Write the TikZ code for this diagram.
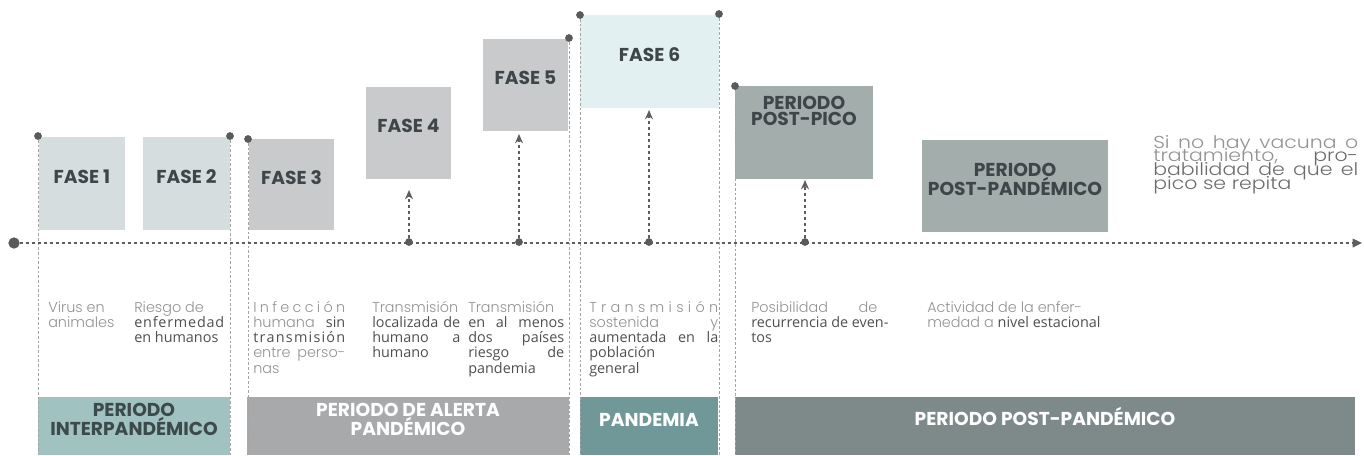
\documentclass[tikz,border=0pt]{standalone}
\usepackage{fontspec}
\setmainfont{Open Sans}
\newfontfamily\lt{Poppins Light}
\newfontfamily\ltw{Poppins Light}[FakeStretch=1.18]
\newfontfamily\hf{Poppins Bold}
\usetikzlibrary{arrows.meta,fit}
\definecolor{c12}{HTML}{D5DDDE}
\definecolor{c345}{HTML}{C9CACC}
\definecolor{c6}{HTML}{E3F0F1}
\definecolor{cpp}{HTML}{A2ADAC}
\definecolor{boxtx}{HTML}{3E4649}
\definecolor{b1}{HTML}{A0C2C0}
\definecolor{b1tx}{HTML}{3C4A4C}
\definecolor{b2}{HTML}{A8A9AB}
\definecolor{b3}{HTML}{719898}
\definecolor{b4}{HTML}{7D8A89}
\definecolor{ltx}{HTML}{929292}
\definecolor{dtx}{HTML}{4F4F4F}
\definecolor{mtx}{HTML}{6C6C6C}
\definecolor{dotc}{HTML}{5A5A5A}
\definecolor{vdc}{HTML}{A4A4A4}
\definecolor{axc}{HTML}{5E5E5E}
\newcommand\LT{\lt\color{ltx}}
\newcommand\DK{\rmfamily\color{dtx}}
\newcommand\LW{\ltw\color{ltx}}
\newcommand\MD{\ltw\color{mtx}}
\newcommand\jl[2]{\hbox to #1{#2}}
\newcommand\vt[1]{\vtop{\lineskiplimit=-50pt\relax #1}}
\begin{document}
\begin{tikzpicture}[x=0.75pt,y=-0.75pt,
  hdr/.style={font=\hf\fontsize{14}{11.6}\selectfont, align=center},
  fbox/.style={hdr, inner sep=0pt, text=boxtx},
  band/.style={hdr, inner sep=0pt},
  dot/.style={circle, fill=dotc, inner sep=0pt, minimum size=5.8pt},
  bigdot/.style={circle, fill=dotc, inner sep=0pt, minimum size=8.5pt},
  vdash/.style={draw=vdc, line width=0.6pt, dash pattern=on 2pt off 1.5pt},
  axisline/.style={draw=axc, line width=1pt, dash pattern=on 2.5pt off 2pt, -{Triangle[length=7pt,width=6.5pt]}},
  uparr/.style={draw=axc, line width=1pt, dash pattern=on 2.5pt off 2pt, -{Stealth[length=7pt,width=6pt]}},
  txt/.style={inner sep=0pt, anchor=base west, font=\fontsize{10.8}{11.44}\selectfont},
  bigtxt/.style={inner sep=0pt, anchor=base west, font=\fontsize{13}{10.3}\selectfont}]
\useasboundingbox (0,0) rectangle (1364,455);
% phase boxes
\node[fbox, fill=c12, fit={(39,137) (125,230)}] (f1) {FASE 1};
\node[fbox, fill=c12, fit={(143,137) (230,230)}] (f2) {FASE 2};
\node[fbox, fill=c345, fit={(249,139) (334,230)}] (f3) {FASE 3};
\node[fbox, fill=c345, fit={(366,87) (451,179)}] (f4) {FASE 4};
\node[fbox, fill=c345, fit={(483,39) (568,131)}] (f5) {FASE 5};
\node[fbox, fill=c6, fit={(580,15) (719,108)}] (f6) {FASE 6};
\node[fbox, fill=cpp, fit={(735,86) (873,179)}] (pp) {};
\node[hdr, text=boxtx, inner sep=0pt] (ppt) at (804,111) {PERIODO\\POST-PICO};
\node[fbox, fill=cpp, fit={(922,140) (1108,232)}] (pd) {PERIODO\\POST-PANDÉMICO};
% period bands
\node[band, fill=b1, text=b1tx, fit={(38,397) (230,455)}] (p1) {PERIODO\\INTERPANDÉMICO};
\node[band, fill=b2, text=white, fit={(247,397) (569,455)}] (p2) {PERIODO DE ALERTA\\PANDÉMICO};
\node[band, fill=b3, text=white, fit={(580,397) (718,455)}] (p3) {PANDEMIA};
\node[band, fill=b4, text=white, fit={(735,397) (1355,455)}] (p4) {PERIODO POST-PANDÉMICO};
% descriptions
\node[txt] (c1) at (48,312) {\vt{\hbox{\LT Virus en}\hbox{\LT animales}}};
\node[txt] (c2) at (134,312) {\vt{\hbox{\LT Riesgo de}
  \jl{67.5pt}{\DK e\hfil n\hfil f\hfil e\hfil r\hfil m\hfil e\hfil d\hfil a\hfil d}
  \hbox{\DK en humanos}}};
\node[txt] (c3) at (253,312) {\vt{\jl{69pt}{\LT I\hfil n\hfil f\hfil e\hfil c\hfil c\hfil i\hfil ó\hfil n}
  \jl{69pt}{\LT humana\hfil\DK sin}
  \jl{69pt}{\DK t\hfil r\hfil a\hfil n\hfil s\hfil m\hfil i\hfil s\hfil i\hfil ó\hfil n}
  \jl{69pt}{\LT entre\hfil perso-}
  \hbox{\LT nas}}};
\node[txt] (c4) at (372,312) {\vt{\hbox{\LT Transmisión}
  \jl{66pt}{\DK localizada\hfil de}
  \jl{66pt}{\DK humano\hfil a}
  \hbox{\DK humano}}};
\node[txt] (c5) at (468,312) {\vt{\hbox{\LT Transmisión}
  \jl{72pt}{\DK en\hfil al\hfil menos}
  \jl{72pt}{\DK dos\hfil países}
  \jl{72pt}{\DK riesgo\hfil de}
  \hbox{\DK pandemia}}};
\node[txt] (c6) at (589,312) {\vt{\jl{96.75pt}{\LT T\hfil r\hfil a\hfil n\hfil s\hfil m\hfil i\hfil s\hfil i\hfil ó\hfil n}
  \jl{96.75pt}{\LT sostenida\hfil y}
  \jl{96.75pt}{\DK aumentada\hfil en\hfil la}
  \hbox{\DK población}
  \hbox{\DK general}}};
\node[txt] (c7) at (751,312) {\vt{\jl{94.5pt}{\LT Posibilidad\hfil de}
  \hbox{\DK recurrencia de even-}
  \hbox{\DK tos}}};
\node[txt] (c8) at (927,312) {\vt{\hbox{\LT Actividad de la enfer-}
  \hbox{\LT medad a \DK nivel estacional}}};
\node[bigtxt] (c9) at (1153,148) {\vt{\jl{153.75pt}{\LW Si no hay vacuna o}
  \jl{153.75pt}{\LW tratamiento,\hfil\MD pro-}
  \jl{153.75pt}{\MD babilidad de que el}
  \hbox{\MD pico se repita}}};
% corner dots and dashed verticals
\coordinate (bot) at (0,455);
\node[dot] (d1) at (38,136) {};
\node[dot] (d2) at (230,136) {};
\node[dot] (d3) at (248,139) {};
\node[dot] (d5) at (569,38) {};
\node[dot] (d6a) at (580,15) {};
\node[dot] (d6b) at (719,14) {};
\node[dot] (d7) at (735,86) {};
\foreach \d in {d1,d2,d3,d5,d6a,d6b,d7} \draw[vdash] (\d.south) -- (\d |- bot);
% time axis
\node[bigdot] (a0) at (14,243) {};
\coordinate (aend) at (1362,243);
\draw[axisline] (a0.east) -- (aend);
% upward arrows
\node[dot] (u4) at (409,242) {};
\node[dot] (u5) at (519,242) {};
\node[dot] (u6) at (649,242) {};
\node[dot] (u7) at (805,242) {};
\coordinate (t4) at (409,190);
\coordinate (t5) at (519,134);
\coordinate (t6) at (649,110);
\coordinate (t7) at (805,180);
\draw[uparr] (u4.north) -- (t4);
\draw[uparr] (u5.north) -- (t5);
\draw[uparr] (u6.north) -- (t6);
\draw[uparr] (u7.north) -- (t7);
\end{tikzpicture}
\end{document}
